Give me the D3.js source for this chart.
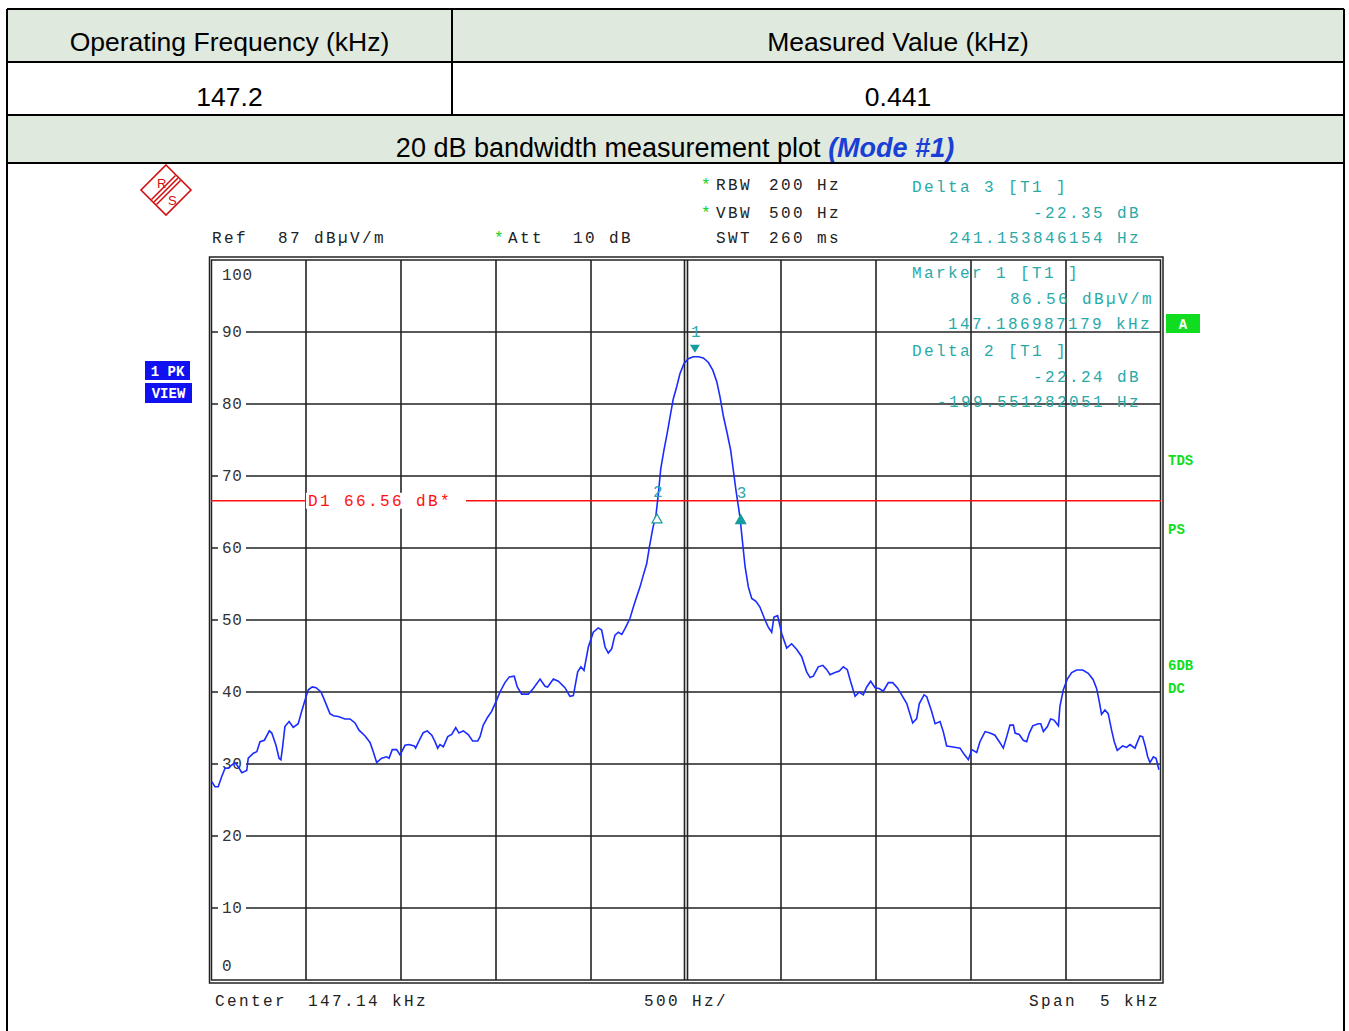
<!DOCTYPE html>
<html>
<head>
<meta charset="utf-8">
<script src="https://cdn.jsdelivr.net/npm/d3@7"></script>
<style>
  body { margin: 0; background: #fff; }
  .sans { font-family: 'Liberation Sans', Arial, sans-serif; }
  .mono { font-family: 'Liberation Mono', 'Courier New', monospace; }
</style>
</head>
<body>
<script>
//trace, frequency in kHz and level in dBuV/m
var freqKHz = [
  144.644,144.661,144.678,144.696,144.714,144.731,144.749,144.766,144.784,144.802,
  144.828,144.836,144.863,144.881,144.898,144.921,144.947,144.960,144.982,144.998,
  145.008,145.017,145.029,145.051,145.073,145.099,145.117,145.135,145.152,145.173,
  145.193,145.219,145.240,145.266,145.284,145.310,145.345,145.372,145.398,145.419,
  145.451,145.477,145.494,145.512,145.538,145.565,145.577,145.594,145.617,145.635,
  145.661,145.682,145.710,145.717,145.731,145.757,145.778,145.802,145.819,145.833,
  145.845,145.863,145.886,145.907,145.928,145.945,145.968,145.994,146.017,146.044,
  146.056,146.073,146.096,146.117,146.144,146.161,146.187,146.210,146.236,146.252,
  146.275,146.310,146.336,146.372,146.398,146.412,146.442,146.468,146.503,146.529,
  146.547,146.570,146.587,146.603,146.626,146.652,146.678,146.696,146.714,146.731,
  146.749,146.766,146.784,146.802,146.819,146.845,146.863,146.880,146.898,146.915,
  146.933,146.947,146.965,146.982,146.994,147.007,147.024,147.042,147.056,147.073,
  147.091,147.108,147.129,147.152,147.178,147.205,147.231,147.257,147.281,147.302,
  147.319,147.336,147.357,147.375,147.389,147.403,147.415,147.424,147.436,147.451,
  147.468,147.486,147.508,147.529,147.556,147.573,147.591,147.603,147.622,147.644,
  147.670,147.696,147.723,147.749,147.775,147.793,147.810,147.836,147.860,147.881,
  147.898,147.924,147.947,147.968,147.989,148.007,148.030,148.052,148.073,148.091,
  148.112,148.135,148.156,148.178,148.205,148.228,148.252,148.275,148.302,148.333,
  148.354,148.368,148.393,148.407,148.433,148.451,148.477,148.494,148.512,148.538,
  148.561,148.582,148.603,148.626,148.644,148.670,148.687,148.714,148.740,148.766,
  148.789,148.810,148.828,148.845,148.863,148.872,148.894,148.915,148.933,148.947,
  148.965,148.994,149.007,149.021,149.042,149.059,149.077,149.100,149.108,149.126,
  149.147,149.170,149.196,149.228,149.257,149.283,149.301,149.315,149.327,149.345,
  149.362,149.380,149.394,149.410,149.438,149.459,149.477,149.503,149.529,149.543,
  149.556,149.570,149.582,149.600,149.614,149.629
];
var levelDb = [
  27.55,26.85,26.85,28.24,29.4,29.4,29.86,30.2,29.6,28.8,
  29.1,30.8,31.5,31.7,33.1,33.3,34.6,34.3,32.6,30.8,
  30.6,32.4,35.2,35.9,35.1,35.6,37.3,38.9,40.3,40.7,
  40.6,40.0,38.7,37.0,36.7,36.6,36.25,36.25,35.7,34.7,
  33.9,33.0,31.7,30.2,30.8,31.0,30.8,32.0,32.0,31.25,
  32.6,32.7,32.5,32.2,33.0,34.35,34.6,34.0,33.1,32.2,
  32.7,32.4,33.8,34.1,35.05,34.3,34.6,34.1,33.2,33.2,
  33.8,35.4,36.5,37.3,38.9,40.0,41.3,42.1,42.2,40.7,
  39.7,39.7,40.5,41.8,40.8,40.7,41.8,41.5,40.6,39.4,
  39.5,42.8,43.5,43.0,46.25,48.3,48.9,48.6,46.25,45.4,
  46.0,47.9,48.3,48.0,48.8,50.2,51.8,53.2,54.6,56.2,
  57.8,60.1,62.7,64.6,67.4,71.0,73.6,76.1,78.2,80.7,
  82.4,84.2,85.6,86.3,86.56,86.56,86.4,85.8,84.7,83.1,
  81.0,78.4,75.9,73.6,70.8,68.0,65.9,64.3,61.2,57.4,
  54.6,53.0,52.6,51.8,50.0,49.0,48.3,50.4,50.6,48.1,
  46.1,46.7,45.9,44.9,42.8,42.0,42.2,43.5,43.7,43.1,
  42.4,42.7,42.9,43.5,43.1,41.4,39.4,40.0,39.6,40.7,
  41.5,40.6,40.5,40.1,41.3,41.3,40.6,39.6,38.4,35.7,
  36.3,38.4,39.6,39.35,37.3,35.6,35.9,34.5,32.5,32.4,
  32.3,32.2,31.4,30.6,32.0,31.6,33.1,34.5,34.3,34.0,
  33.1,32.2,33.8,35.4,35.4,34.3,34.1,33.3,33.1,34.3,
  35.3,35.6,35.6,34.5,35.2,36.25,36.1,35.3,38.0,40.3,
  41.8,42.7,43.05,43.05,42.6,41.7,40.5,38.7,36.9,37.5,
  37.0,34.7,33.1,31.9,32.5,32.3,32.7,32.2,33.9,33.8,
  32.6,31.0,30.2,31.0,30.8,29.2
];

//grid: 10 divisions of 500 Hz around 147.14 kHz, 10 dB per division
var xGridKHz = [145.14, 145.64, 146.14, 146.64, 147.64, 148.14, 148.64, 149.14];
var yGridDb = [10, 20, 30, 40, 50, 60, 70, 80, 90];

//markers: name, freq (kHz), level (dB)
var markerNames = ['1', '2', '3'];
var markerFreq = [147.186987179, 146.987435897, 147.428141025];
var markerLevel = [86.56, 64.32, 64.21];
var displayLine = 66.56;

//table texts
var headerCells = ['Operating Frequency (kHz)', 'Measured Value (kHz)'];
var valueCells = ['147.2', '0.441'];

var svgWidth = 1349;
var svgHeight = 1031;

var svg = d3.select('body')
  .append('svg')
  .attr('width', svgWidth)
  .attr('height', svgHeight);

// ---------- table around the plot ----------
var colX = [7, 452, 1344];
var rowY = [9, 62, 115, 163];
var tableFill = '#dfe9de';

svg.append('rect').attr('x', 7).attr('y', rowY[0]).attr('width', 1337).attr('height', rowY[1] - rowY[0]).attr('fill', tableFill);
svg.append('rect').attr('x', 7).attr('y', rowY[2]).attr('width', 1337).attr('height', rowY[3] - rowY[2]).attr('fill', tableFill);

headerCells.forEach(function(t, i){
  svg.append('text')
    .attr('class', 'sans')
    .attr('x', (colX[i] + colX[i + 1]) / 2)
    .attr('y', 51)
    .attr('text-anchor', 'middle')
    .style('font-size', '26.5px')
    .text(t);
  svg.append('text')
    .attr('class', 'sans')
    .attr('x', (colX[i] + colX[i + 1]) / 2)
    .attr('y', 106)
    .attr('text-anchor', 'middle')
    .style('font-size', '26.5px')
    .text(valueCells[i]);
});

var title = svg.append('text')
  .attr('class', 'sans')
  .attr('x', 675)
  .attr('y', 157)
  .attr('text-anchor', 'middle')
  .style('font-size', '27px');
title.append('tspan').text('20 dB bandwidth measurement plot ');
title.append('tspan')
  .style('font-weight', 'bold')
  .style('font-style', 'italic')
  .attr('fill', '#1a3fd6')
  .text('(Mode #1)');

//table lines
var tableLines = svg.append('g').attr('stroke', '#000').attr('stroke-width', 2);
rowY.forEach(function(y){
  tableLines.append('line').attr('x1', 7).attr('x2', 1344).attr('y1', y).attr('y2', y);
});
tableLines.append('line').attr('x1', 7).attr('x2', 7).attr('y1', 9).attr('y2', svgHeight);
tableLines.append('line').attr('x1', 1344).attr('x2', 1344).attr('y1', 9).attr('y2', svgHeight);
tableLines.append('line').attr('x1', 452).attr('x2', 452).attr('y1', 9).attr('y2', 115);

// ---------- analyzer screen ----------
var xScale = d3.scaleLinear().domain([144.64, 149.64]).range([211, 1161]);
var yScale = d3.scaleLinear().domain([0, 100]).range([980, 260]);

var teal = '#2aa9a9';
var monoSize = '16px';

function mono(x, y, txt, color, spacing){
  return svg.append('text')
    .attr('class', 'mono')
    .attr('x', x)
    .attr('y', y)
    .attr('fill', color || '#222')
    .style('font-size', monoSize)
    .style('letter-spacing', (spacing === undefined ? 2.4 : spacing) + 'px')
    .text(txt);
}

//R&S logo
var logo = svg.append('g').attr('transform', 'translate(166,190)');
logo.append('polygon')
  .attr('points', '0,-25 25,0 0,25 -25,0')
  .attr('fill', 'none')
  .attr('stroke', '#d01010')
  .attr('stroke-width', 1.6);
[-2.5, 0, 2.5].forEach(function(o){
  logo.append('line')
    .attr('x1', 12 + o).attr('y1', -12 + o)
    .attr('x2', -12 + o).attr('y2', 12 + o)
    .attr('stroke', '#d01010').attr('stroke-width', 1.6);
});
logo.append('text').attr('x', -9).attr('y', -2).attr('class', 'sans')
  .attr('fill', '#d01010').style('font-size', '13px').text('R');
logo.append('text').attr('x', 2).attr('y', 15).attr('class', 'sans')
  .attr('fill', '#d01010').style('font-size', '13px').text('S');

//settings text
mono(212, 243, 'Ref');
mono(278, 243, '87 dB\u00b5V/m');
mono(494, 243, '*', '#10d020', 0);
mono(508, 243, 'Att');
mono(573, 243, '10 dB');
mono(701, 190, '*', '#10d020', 0);
mono(716, 190, 'RBW');
mono(769, 190, '200 Hz');
mono(701, 218, '*', '#10d020', 0);
mono(716, 218, 'VBW');
mono(769, 218, '500 Hz');
mono(716, 243, 'SWT');
mono(769, 243, '260 ms');

//grid
var grid = svg.append('g').attr('stroke', '#222').attr('stroke-width', 1.6);
grid.selectAll('.vg')
  .data(xGridKHz)
  .enter()
  .append('line')
  .attr('x1', function(d){ return xScale(d); })
  .attr('x2', function(d){ return xScale(d); })
  .attr('y1', yScale(100))
  .attr('y2', yScale(0));
grid.selectAll('.hg')
  .data(yGridDb)
  .enter()
  .append('line')
  .attr('x1', xScale(144.64))
  .attr('x2', xScale(149.64))
  .attr('y1', function(d){ return yScale(d); })
  .attr('y2', function(d){ return yScale(d); });
//center line is doubled
[-1.5, 1.5].forEach(function(o){
  grid.append('line')
    .attr('x1', xScale(147.14) + o).attr('x2', xScale(147.14) + o)
    .attr('y1', yScale(100)).attr('y2', yScale(0));
});

//double frame
svg.append('rect')
  .attr('x', xScale(144.64) + 0.5).attr('y', yScale(100))
  .attr('width', xScale(149.64) - xScale(144.64) - 1).attr('height', yScale(0) - yScale(100))
  .attr('fill', 'none').attr('stroke', '#222').attr('stroke-width', 1.5);
svg.append('rect')
  .attr('x', xScale(144.64) - 1.5).attr('y', yScale(100) - 3)
  .attr('width', xScale(149.64) - xScale(144.64) + 3.5).attr('height', yScale(0) - yScale(100) + 6)
  .attr('fill', 'none').attr('stroke', '#222').attr('stroke-width', 1.5);

//y labels sit inside the frame, the grid line is cut behind them
yGridDb.forEach(function(d){
  svg.append('rect')
    .attr('x', 218).attr('y', yScale(d) - 7)
    .attr('width', 28).attr('height', 14)
    .attr('fill', '#fff');
  mono(222, yScale(d) + 5, d, '#333', 0.6);
});
mono(222, yScale(100) + 20, '100', '#333', 0.6);
mono(222, yScale(0) - 9, '0', '#333', 0.6);

//display line D1
var d1y = yScale(displayLine);
svg.append('line')
  .attr('x1', xScale(144.64)).attr('x2', xScale(149.64))
  .attr('y1', d1y).attr('y2', d1y)
  .attr('stroke', '#ff1010').attr('stroke-width', 1.5);
svg.append('rect')
  .attr('x', 306).attr('y', d1y - 8).attr('width', 160).attr('height', 16)
  .attr('fill', '#fff');
mono(308, d1y + 5, 'D1 66.56 dB*', '#ff1010');

//trace
var line = d3.line()
  .x(function(d, i){ return xScale(freqKHz[i]); })
  .y(function(d){ return yScale(d); });
svg.append('path')
  .datum(levelDb)
  .attr('d', line)
  .attr('fill', 'none')
  .attr('stroke', '#1a2cff')
  .attr('stroke-width', 1.6);

//marker symbols
markerNames.forEach(function(m, i){
  var mx = xScale(markerFreq[i]);
  var my = yScale(markerLevel[i]);
  if (i == 0) {
    svg.append('path')
      .attr('d', 'M' + (mx - 5) + ',' + (my - 12) + 'L' + (mx + 5) + ',' + (my - 12) + 'L' + mx + ',' + (my - 4) + 'Z')
      .attr('fill', '#159c9c');
    mono(mx - 4, my - 20, m, teal, 0);
  } else {
    svg.append('path')
      .attr('d', 'M' + (mx - 5) + ',' + (my + 6) + 'L' + (mx + 5) + ',' + (my + 6) + 'L' + mx + ',' + (my - 3) + 'Z')
      .attr('fill', i == 1 ? '#fff' : '#159c9c')
      .attr('stroke', '#159c9c')
      .attr('stroke-width', 1.2);
    mono(mx - 4, my - 20, m, teal, 0);
  }
});

//marker readouts
mono(912, 192, 'Delta 3 [T1 ]', teal);
mono(1033, 218, '-22.35 dB', teal);
mono(949, 243, '241.153846154 Hz', teal);
mono(912, 278, 'Marker 1 [T1 ]', teal);
mono(1010, 304, '86.56 dB\u00b5V/m', teal);
mono(948, 329, '147.186987179 kHz', teal);
mono(912, 356, 'Delta 2 [T1 ]', teal);
mono(1033, 382, '-22.24 dB', teal);
mono(937, 407, '-199.551282051 Hz', teal);

//side badges
function badge(x, y, w, h, txt, fill){
  svg.append('rect').attr('x', x).attr('y', y).attr('width', w).attr('height', h).attr('fill', fill);
  svg.append('text')
    .attr('class', 'mono')
    .attr('x', x + w / 2).attr('y', y + h / 2 + 5)
    .attr('text-anchor', 'middle')
    .attr('fill', '#fff')
    .style('font-size', '14px')
    .style('font-weight', 'bold')
    .text(txt);
}
badge(145, 361, 45, 19, '1 PK', '#1010f0');
badge(145, 383, 47, 20, 'VIEW', '#1010f0');
badge(1166, 314, 34, 19, 'A', '#10dd20');

[['TDS', 465], ['PS', 534], ['6DB', 670], ['DC', 693]].forEach(function(s){
  svg.append('text')
    .attr('class', 'mono')
    .attr('x', 1168).attr('y', s[1])
    .attr('fill', '#10dd20')
    .style('font-size', '14px')
    .style('font-weight', 'bold')
    .text(s[0]);
});

//bottom line
mono(215, 1006, 'Center');
mono(308, 1006, '147.14 kHz');
mono(644, 1006, '500 Hz/');
mono(1029, 1006, 'Span');
mono(1100, 1006, '5 kHz');
</script>
</body>
</html>
